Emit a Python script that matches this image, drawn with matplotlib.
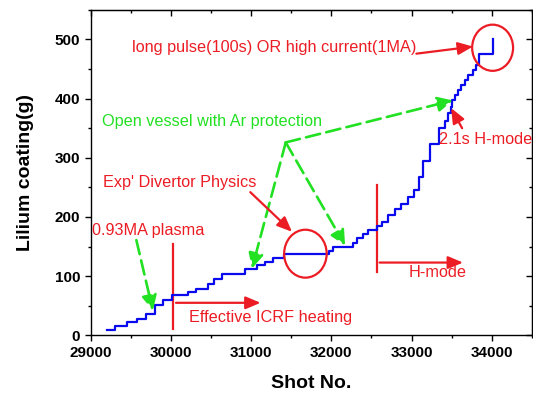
import matplotlib
matplotlib.use("Agg")
import matplotlib.pyplot as plt
from matplotlib.patches import Ellipse
from matplotlib.ticker import MultipleLocator

plt.rcParams['font.family'] = ['Liberation Sans', 'DejaVu Sans']

# cumulative lithium coating vs. shot number (step changes)
shot_no = [29210, 29301, 29458, 29582, 29694, 29805, 29900, 30016, 30210, 30313,
           30457, 30540, 30643, 30922, 31077, 31172, 31275, 31408, 31965, 32018,
           32275, 32316, 32399, 32461, 32564, 32634, 32709, 32792, 32874, 32957,
           33031, 33089, 33142, 33225, 33341, 33411, 33452, 33486, 33502, 33535,
           33576, 33617, 33667, 33709, 33762, 33803, 33845, 34010]
coating_g = [9, 16, 22, 28, 36, 51, 60, 68, 73, 79,
             87, 95, 104, 112, 119, 124, 130, 137, 143, 150,
             156, 164, 171, 178, 184, 192, 203, 213, 222, 233,
             245, 268, 295, 323, 350, 363, 375, 386, 398, 406,
             414, 423, 431, 440, 448, 457, 475, 500]

x_ticks = [29000, 30000, 31000, 32000, 33000, 34000]
y_ticks = [0, 100, 200, 300, 400, 500]

RED = '#ec1c24'
GREEN = '#22e022'
BLUE = '#0a0aee'
ANN_FS = 11.7

fig = plt.figure(figsize=(5.33, 3.95), dpi=100)
ax = fig.add_axes([0.170, 0.151, 0.828, 0.824])

ax.plot(shot_no, coating_g, drawstyle='steps-post', color=BLUE, lw=1.6, zorder=3)

ax.set_xlim(29000, 34500)
ax.set_ylim(0, 550)
ax.set_xticks(x_ticks)
ax.set_yticks(y_ticks)
ax.xaxis.set_minor_locator(MultipleLocator(500))
ax.yaxis.set_minor_locator(MultipleLocator(50))
ax.tick_params(which='both', direction='out', width=1.0, labelsize=11)
ax.tick_params(which='major', length=4)
ax.tick_params(which='minor', length=2.5)
for lab in ax.get_xticklabels() + ax.get_yticklabels():
    lab.set_fontweight('bold')

# mirrored inward ticks on top and right
top = ax.secondary_xaxis('top')
top.set_xticks(x_ticks)
top.xaxis.set_minor_locator(MultipleLocator(500))
top.tick_params(which='both', direction='in', labeltop=False, width=1.0)
top.tick_params(which='major', length=4)
top.tick_params(which='minor', length=2.5)
right = ax.secondary_yaxis('right')
right.set_yticks(y_ticks)
right.yaxis.set_minor_locator(MultipleLocator(50))
right.tick_params(which='both', direction='in', labelright=False, width=1.0)
right.tick_params(which='major', length=4)
right.tick_params(which='minor', length=2.5)

for s in ax.spines.values():
    s.set_linewidth(1.0)

ax.set_xlabel('Shot No.', fontsize=14, fontweight='bold', labelpad=11)
ax.set_ylabel('Lilium coating(g)', fontsize=14, fontweight='bold', labelpad=15)

red_arrow = dict(arrowstyle='-|>,head_length=0.9,head_width=0.38', color=RED, lw=1.6,
                 shrinkA=0, shrinkB=0)
green_arrow = dict(arrowstyle='-|>,head_length=0.9,head_width=0.45', color=GREEN, lw=1.9,
                   linestyle=(0, (5.5, 2.4)), shrinkA=0, shrinkB=0)

# long pulse / high current
ax.text(29521, 486, 'long pulse(100s) OR high current(1MA)', color=RED, fontsize=ANN_FS,
        ha='left', va='center')
ax.annotate('', xy=(33765, 488), xytext=(33060, 476), arrowprops=red_arrow)
ax.add_patch(Ellipse((34010, 486), 510, 78, fill=False, ec=RED, lw=1.6, zorder=4))

# open vessel with Ar protection
ax.text(29136, 362, 'Open vessel with Ar protection', color=GREEN, fontsize=ANN_FS,
        ha='left', va='center')
apex = (31432, 326)
ax.annotate('', xy=(33514, 397), xytext=apex, arrowprops=green_arrow)
ax.annotate('', xy=(31011, 113), xytext=apex, arrowprops=green_arrow)
ax.annotate('', xy=(32171, 152), xytext=apex, arrowprops=green_arrow)
ax.annotate('', xy=(29776, 42), xytext=(29570, 161), arrowprops=green_arrow)

# divertor physics
ax.text(29152, 259, "Exp' Divertor Physics", color=RED, fontsize=ANN_FS,
        ha='left', va='center')
ax.annotate('', xy=(31510, 175), xytext=(30990, 242), arrowprops=red_arrow)
ax.add_patch(Ellipse((31677, 138), 530, 81, fill=False, ec=RED, lw=1.6, zorder=4))

# 0.93MA plasma
ax.text(29012, 178, '0.93MA plasma', color=RED, fontsize=ANN_FS, ha='left', va='center')

# effective ICRF heating
ax.plot([30024, 30024], [10, 155], color=RED, lw=1.6)
ax.annotate('', xy=(31118, 55), xytext=(30064, 55), arrowprops=red_arrow)
ax.text(30222, 30, 'Effective ICRF heating', color=RED, fontsize=ANN_FS,
        ha='left', va='center')

# H-mode
ax.plot([32564, 32564], [107, 254], color=RED, lw=1.6)
ax.annotate('', xy=(33641, 123), xytext=(32601, 123), arrowprops=red_arrow)
ax.text(32958, 106, 'H-mode', color=RED, fontsize=ANN_FS, ha='left', va='center')

# 2.1s H-mode
ax.text(33343, 331, '2.1s H-mode', color=RED, fontsize=ANN_FS, ha='left', va='center',
        clip_on=False)
ax.annotate('', xy=(33493, 384), xytext=(33630, 350), arrowprops=red_arrow)

fig.savefig('out.png', dpi=100)
